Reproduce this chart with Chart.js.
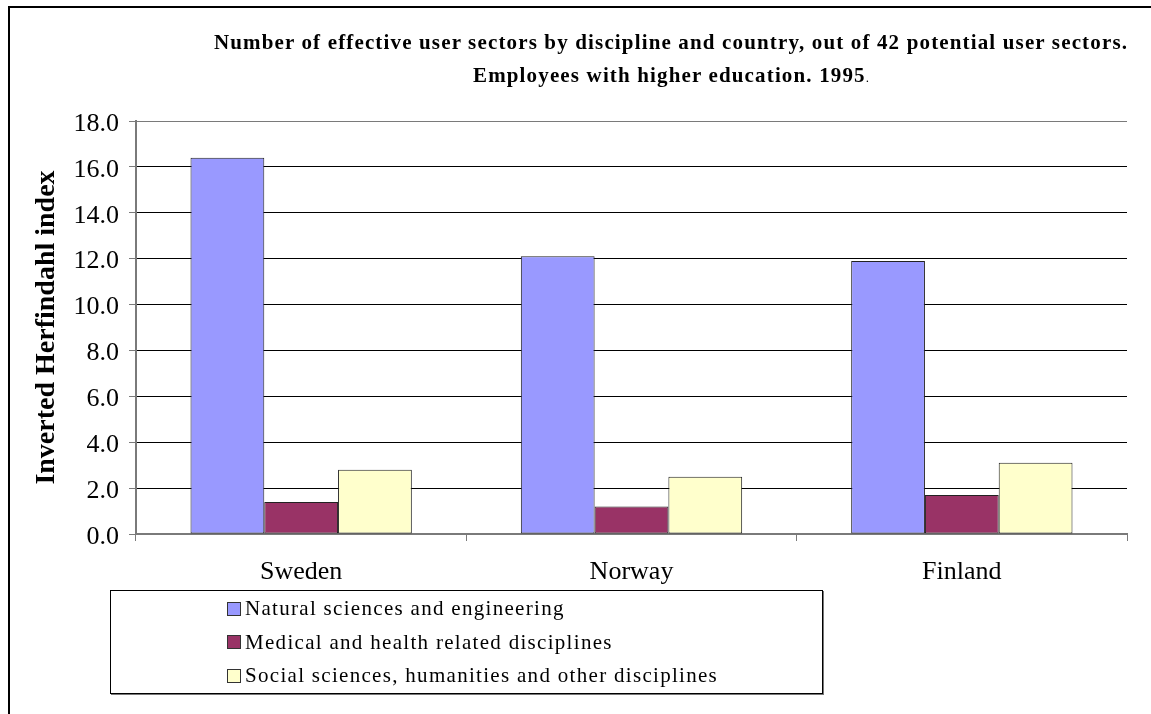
<!DOCTYPE html>
<html>
<head>
<meta charset="utf-8">
<script src="https://cdn.jsdelivr.net/npm/chart.js@4/dist/chart.umd.min.js"></script>
<style>
  html, body { margin: 0; padding: 0; background: #fff; }
  #wrap { position: relative; width: 1151px; height: 714px; overflow: hidden; }
  #frame { position: absolute; left: 8px; top: 6px; width: 1200px; height: 800px;
           border-top: 2px solid #000; border-left: 2px solid #000; }
  #chartCanvas { position: absolute; left: 0; top: 0; }
  #chartTitle { position: absolute; left: 170px; top: 26px; width: 1002px; text-align: center;
                font-family: "Liberation Serif", serif; font-weight: bold; font-size: 21px;
                letter-spacing: 1.15px; color: #000; white-space: nowrap; line-height: 33px; }
  #chartTitle .dot { font-weight: normal; font-size: 13px; letter-spacing: 0; }
  #legendBox { position: absolute; left: 110px; top: 590px; width: 711px; height: 102px;
               border: 1px solid #000; box-shadow: 1px 1px 0 #777; background: #fff;
               font-family: "Liberation Serif", serif; font-size: 21px; letter-spacing: 1.3px; }
  #legendBox ul { list-style: none; margin: 0; padding: 1px 0 0 116px; }
  #legendBox li { height: 33.5px; line-height: 33.5px; display: flex; align-items: center; }
  #legendBox .swatch { display: inline-block; width: 12px; height: 12px; border: 1px solid #333;
                       margin-right: 4px; }
</style>
</head>
<body>
<div id="wrap">
  <div id="frame"></div>
  <canvas id="chartCanvas" width="1151" height="714"></canvas>
  <div id="chartTitle">
    <div>Number of effective user sectors by discipline and country, out of 42 potential user sectors.</div>
    <div>Employees with higher education. 1995<span class="dot">.</span></div>
  </div>
  <div id="legendBox"><ul id="legendList"></ul></div>
</div>

<script>
const countries = ["Sweden", "Norway", "Finland"];

const seriesLabels = [
  "Natural sciences and engineering",
  "Medical and health related disciplines",
  "Social sciences, humanities and other disciplines"
];

const naturalSciences = [16.4, 12.1, 11.9];
const medicalHealth = [1.4, 1.2, 1.7];
const socialHumanities = [2.8, 2.5, 3.1];

const seriesColors = ["#9999ff", "#993366", "#ffffcc"];

const yTicks = [0, 2, 4, 6, 8, 10, 12, 14, 16, 18];

const axisGray = "#7a7a7a";

function makeDataset(label, values, color) {
  return {
    label: label,
    data: values,
    backgroundColor: color,
    borderColor: "#222222",
    borderWidth: 1,
    borderSkipped: false,
    categoryPercentage: 0.67,
    barPercentage: 1.0
  };
}

// legend lives in an html box below the canvas
function buildLegend(chart) {
  const list = document.getElementById("legendList");
  list.innerHTML = "";
  chart.data.datasets.forEach(ds => {
    const li = document.createElement("li");
    const box = document.createElement("span");
    box.className = "swatch";
    box.style.background = ds.backgroundColor;
    li.appendChild(box);
    li.appendChild(document.createTextNode(ds.label));
    list.appendChild(li);
  });
}

const serif = "'Liberation Serif', 'Times New Roman', serif";

const ctx = document.getElementById("chartCanvas").getContext("2d");

const chart = new Chart(ctx, {
  type: "bar",
  data: {
    labels: countries,
    datasets: [
      makeDataset(seriesLabels[0], naturalSciences, seriesColors[0]),
      makeDataset(seriesLabels[1], medicalHealth, seriesColors[1]),
      makeDataset(seriesLabels[2], socialHumanities, seriesColors[2])
    ]
  },
  options: {
    responsive: false,
    animation: false,
    layout: { padding: { left: 0, right: 24, top: 121, bottom: 0 } },
    plugins: {
      legend: { display: false },
      title: { display: false },
      tooltip: { enabled: false }
    },
    scales: {
      x: {
        offset: true,
        grid: {
          offset: true,
          drawOnChartArea: true,
          color: c => (c.index === countries.length ? axisGray : "transparent"),
          tickColor: axisGray,
          tickLength: 7,
          lineWidth: 1
        },
        border: { display: true, color: axisGray, width: 2 },
        ticks: {
          color: "#000",
          padding: 16,
          font: { family: serif, size: 26 }
        },
        afterFit: scale => { scale.height = 180; }
      },
      y: {
        min: 0,
        max: 18,
        afterBuildTicks: scale => { scale.ticks = yTicks.map(v => ({ value: v })); },
        grid: {
          color: c => (c.tick && (c.tick.value === 18 || c.tick.value === 0) ? axisGray : "#000"),
          tickColor: axisGray,
          tickLength: 7,
          lineWidth: 1
        },
        border: { display: true, color: axisGray, width: 2 },
        ticks: {
          color: "#000",
          padding: 10,
          labelOffset: 3,
          font: { family: serif, size: 26 },
          callback: v => Number(v).toFixed(1)
        },
        title: {
          display: true,
          text: "Inverted Herfindahl index",
          color: "#000",
          font: { family: serif, size: 28, weight: "bold" },
          padding: { top: 30, bottom: 0 }
        },
        afterFit: scale => { scale.width = 136; }
      }
    }
  }
});

buildLegend(chart);
</script>
</body>
</html>
